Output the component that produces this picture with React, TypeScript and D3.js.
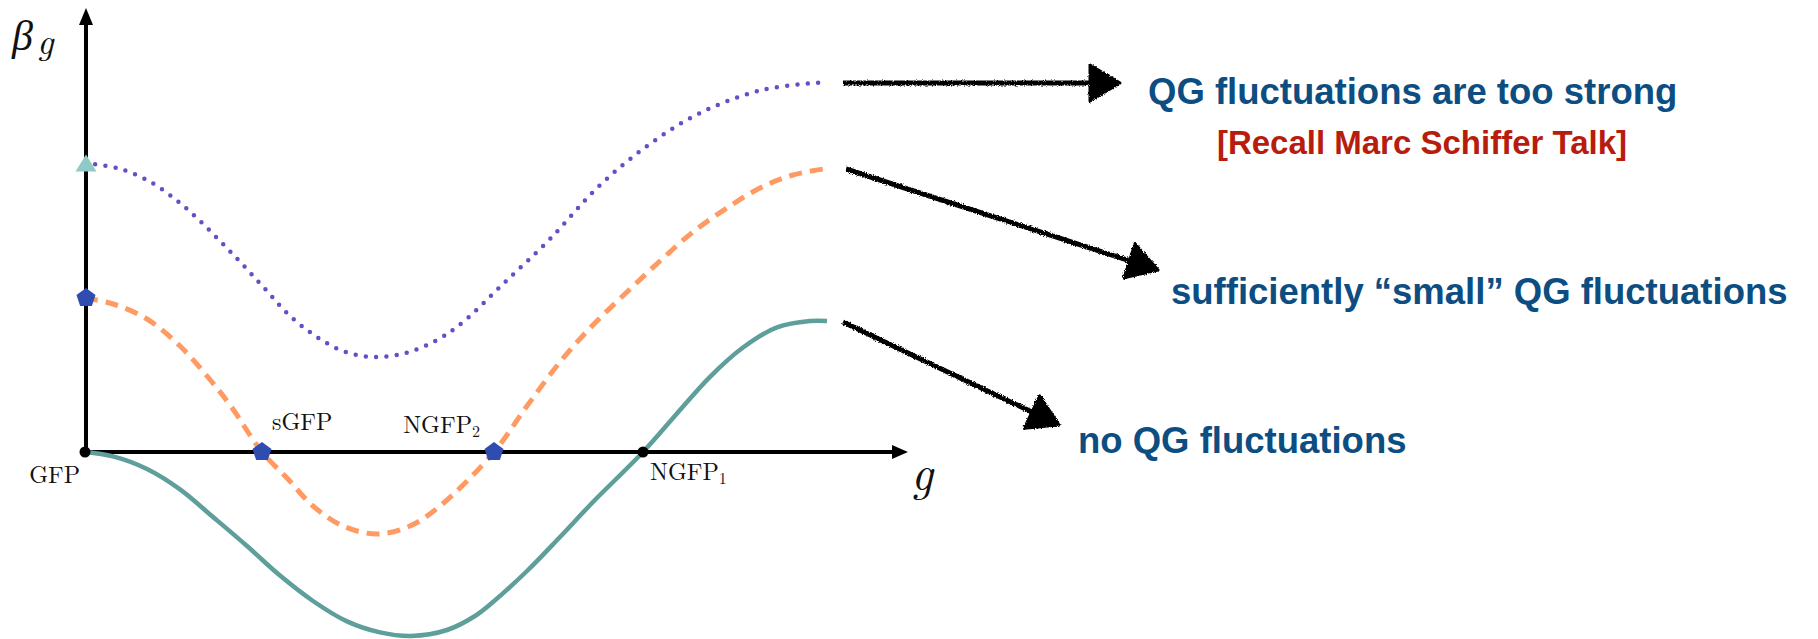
import React from "react";
import * as d3 from "d3";

// Sketch of the gravitational beta function β_g(g) for three scenarios.

// Strong quantum-gravity fluctuations (dotted purple)
const gStrong = [0, 0.32, 0.62, 0.9, 1.14, 1.37, 1.59, 1.81, 2.03, 2.29, 2.58, 2.88, 3.21, 3.52, 3.78, 4.18, 4.65, 5.12, 5.62, 6.15, 6.77, 7.42];
const betaStrong = [2.89, 2.84, 2.72, 2.53, 2.32, 2.09, 1.86, 1.62, 1.38, 1.17, 1.01, 0.95, 0.99, 1.12, 1.3, 1.68, 2.13, 2.64, 3.06, 3.39, 3.62, 3.7];

// Sufficiently small fluctuations (dashed orange)
const gSmall = [0, 0.28, 0.62, 0.95, 1.22, 1.45, 1.77, 2.02, 2.28, 2.58, 2.92, 3.25, 3.55, 4.09, 4.42, 4.75, 5.08, 5.42, 5.75, 6.08, 6.42, 6.75, 7.08, 7.45];
const betaSmall = [1.54, 1.48, 1.33, 1.06, 0.76, 0.47, 0, -0.26, -0.54, -0.74, -0.82, -0.74, -0.54, 0, 0.46, 0.9, 1.27, 1.6, 1.91, 2.2, 2.44, 2.64, 2.77, 2.84];

// No fluctuations (solid teal)
const gNone = [0, 0.28, 0.62, 0.95, 1.28, 1.62, 1.95, 2.28, 2.62, 2.95, 3.26, 3.62, 3.9, 4.08, 4.42, 4.75, 5.08, 5.58, 5.92, 6.25, 6.58, 6.92, 7.25, 7.42];
const betaNone = [0, -0.044, -0.17, -0.374, -0.65, -0.94, -1.236, -1.49, -1.694, -1.804, -1.84, -1.78, -1.64, -1.5, -1.19, -0.85, -0.5, 0, 0.385, 0.752, 1.045, 1.247, 1.31, 1.31];

// Fixed points on the g axis
const fpNames = ["GFP", "sGFP", "NGFP", "NGFP"];
const fpSubs = ["", "", "2", "1"];
const fpG = [0, 1.77, 4.09, 5.58];
const fpKind = ["dot", "pentagon", "pentagon", "dot"];

// Annotations: text and arrow tip (g, β)
const noteTexts = ["QG fluctuations are too strong", "sufficiently \u201csmall\u201d QG fluctuations", "no QG fluctuations"];
const noteTipG = [10.35, 10.73, 9.74];
const noteTipBeta = [3.69, 1.82, 0.27];
const remark = "[Recall Marc Schiffer Talk]";

const gMax = 8.23;
const betaMax = 4.44;

const W = 1818;
const H = 639;

const BLUE = "#0d4e82";
const RED = "#b71c0c";

function pentagon(cx: number, cy: number, r: number) {
  const pts = d3.range(5).map((k) => {
    const a = ((-90 + 72 * k) * Math.PI) / 180;
    return [cx + r * Math.cos(a), cy + r * Math.sin(a)];
  });
  return "M" + pts.map((p) => p.join(",")).join("L") + "Z";
}

function triangleUp(cx: number, cy: number, w: number, h: number) {
  return `M${cx},${cy - h / 2}L${cx + w / 2},${cy + h / 2}L${cx - w / 2},${cy + h / 2}Z`;
}

function HandArrow({ x1, y1, x2, y2 }: { x1: number; y1: number; x2: number; y2: number }) {
  const dx = x2 - x1;
  const dy = y2 - y1;
  const len = Math.hypot(dx, dy);
  const ux = dx / len;
  const uy = dy / len;
  const headLen = 30;
  const headHalf = 18;
  const bx = x2 - ux * headLen;
  const by = y2 - uy * headLen;
  const head = `M${x2},${y2}L${bx - uy * headHalf},${by + ux * headHalf}L${bx + uy * headHalf},${by - ux * headHalf}Z`;
  return (
    <g filter="url(#rough)">
      <line x1={x1} y1={y1} x2={bx + ux * 4} y2={by + uy * 4} stroke="#000" strokeWidth={5} />
      <path d={head} fill="#000" stroke="#000" strokeWidth={3} strokeLinejoin="round" />
    </g>
  );
}

export default function App() {
  const x = d3.scaleLinear().domain([0, gMax]).range([85, 908]);
  const y = d3.scaleLinear().domain([0, betaMax]).range([452, 8]);

  const line = d3
    .line<[number, number]>()
    .x((d) => x(d[0]))
    .y((d) => y(d[1]))
    .curve(d3.curveCatmullRom.alpha(0.5));

  const strong = gStrong.map((g, i) => [g, betaStrong[i]] as [number, number]);
  const small = gSmall.map((g, i) => [g, betaSmall[i]] as [number, number]);
  const none = gNone.map((g, i) => [g, betaNone[i]] as [number, number]);

  const ends = [strong[strong.length - 1], small[small.length - 1], none[none.length - 1]];

  const x0 = x(0);
  const y0 = y(0);
  const xEnd = x(gMax);
  const yTop = y(betaMax);

  const serif = "'Latin Modern Roman', 'Liberation Serif', 'DejaVu Serif', serif";
  const sans = "'Liberation Sans', Arial, Helvetica, sans-serif";

  // label placement relative to each fixed point
  const fpLabelDx = [-5, 10, -14, 7];
  const fpLabelDy = [31, -22, -19, 28];
  const fpAnchor = ["end", "start", "end", "start"];

  const noteX = [1148, 1171, 1078];
  const noteY = [104, 304, 453];

  return (
    <svg
      width={W}
      height={H}
      viewBox={`0 0 ${W} ${H}`}
      style={{ position: "absolute", left: 0, top: 0, background: "#fff" }}
    >
      <defs>
        <filter id="rough" x="-5%" y="-20%" width="110%" height="140%">
          <feTurbulence type="fractalNoise" baseFrequency="0.9" numOctaves="2" seed="3" result="noise" />
          <feDisplacementMap in="SourceGraphic" in2="noise" scale="3.5" xChannelSelector="R" yChannelSelector="G" />
        </filter>
      </defs>
      <rect x={0} y={0} width={W} height={H} fill="#fff" />

      {/* axes */}
      <line x1={x0} y1={y0} x2={xEnd - 12} y2={y0} stroke="#000" strokeWidth={4} />
      <path d={`M${xEnd},${y0}L${xEnd - 16},${y0 - 7}L${xEnd - 16},${y0 + 7}Z`} fill="#000" />
      <line x1={x0 + 1} y1={y0} x2={x0 + 1} y2={yTop + 12} stroke="#000" strokeWidth={4} />
      <path d={`M${x0 + 1},${yTop}L${x0 + 1 - 7},${yTop + 17}L${x0 + 1 + 7},${yTop + 17}Z`} fill="#000" />

      {/* axis titles */}
      <text x={12} y={50} fontFamily={serif} fontStyle="italic" fontSize={42} fill="#111">
        β
      </text>
      <text x={37} y={54} fontFamily={serif} fontStyle="italic" fontSize={36} fill="#111">
        g
      </text>
      <text x={911} y={490} fontFamily={serif} fontStyle="italic" fontSize={48} fill="#111">
        g
      </text>

      {/* curves */}
      <path d={line(none) || ""} fill="none" stroke="#5e9e9b" strokeWidth={4.5} />
      <path d={line(small) || ""} fill="none" stroke="#ff9a63" strokeWidth={5} strokeDasharray="13 8" />
      <path
        d={line(strong) || ""}
        fill="none"
        stroke="#6a4cc6"
        strokeWidth={4.5}
        strokeDasharray="0 10.3"
        strokeLinecap="round"
      />

      {/* starting points on the β axis */}
      <path d={triangleUp(x(strong[0][0]) + 1, y(strong[0][1]), 21, 17)} fill="#8fcac7" />
      <path d={pentagon(x(small[0][0]) + 1, y(small[0][1]), 10)} fill="#2f4db0" />

      {/* fixed points */}
      {fpG.map((g, i) => {
        const cx = x(g);
        return fpKind[i] === "dot" ? (
          <circle key={i} cx={cx} cy={y0} r={5.5} fill="#000" />
        ) : (
          <path key={i} d={pentagon(cx, y0, 10)} fill="#2f4db0" />
        );
      })}
      {fpNames.map((name, i) => (
        <text
          key={name + i}
          x={x(fpG[i]) + fpLabelDx[i]}
          y={y0 + fpLabelDy[i]}
          textAnchor={fpAnchor[i] as any}
          fontFamily={serif}
          fontSize={24}
          fill="#111"
        >
          {name}
          {fpSubs[i] && (
            <tspan fontSize={16} dy={4}>
              {fpSubs[i]}
            </tspan>
          )}
        </text>
      ))}

      {/* annotation arrows */}
      {ends.map((e, i) => (
        <HandArrow
          key={i}
          x1={x(e[0]) + 16}
          y1={y(e[1]) + 1}
          x2={x(noteTipG[i])}
          y2={y(noteTipBeta[i])}
        />
      ))}

      {/* annotation texts */}
      {noteTexts.map((t, i) => (
        <text key={t} x={noteX[i]} y={noteY[i]} fontFamily={sans} fontWeight="bold" fontSize={36.5} fill={BLUE}>
          {t}
        </text>
      ))}
      <text x={1422} y={154} textAnchor="middle" fontFamily={sans} fontWeight="bold" fontSize={33} fill={RED}>
        {remark}
      </text>
    </svg>
  );
}
